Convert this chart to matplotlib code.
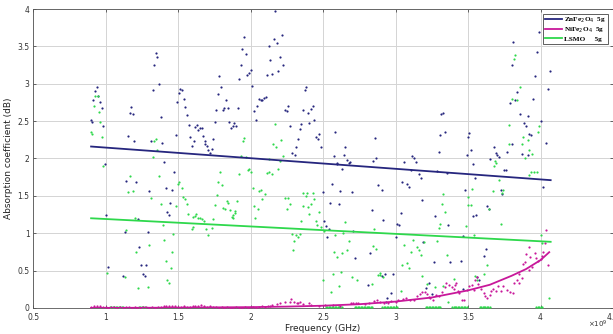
import numpy as np
import matplotlib
matplotlib.use("Agg")
import matplotlib.pyplot as plt

# frequency in GHz (axis is shown as x10^9 Hz), absorption in dB
znfe_x = [0.94, 0.93, 0.946, 0.916, 0.962, 0.974, 0.898, 0.909, 0.985, 0.997,
          1.176, 1.167, 1.188, 1.155, 1.199, 1.346, 1.357, 1.334, 1.369, 1.326,
          1.381, 1.314, 1.392, 1.403, 1.484, 1.495, 1.507, 1.516, 1.528, 1.539,
          1.55, 1.562, 1.574, 1.585, 1.597, 1.608, 1.617, 1.629, 1.64, 1.652,
          1.663, 1.674, 1.686, 1.698, 1.709, 1.721, 1.732, 1.743, 1.753, 1.762,
          1.774, 1.785, 1.797, 1.808, 1.819, 1.831, 1.843, 1.854, 1.866, 1.877,
          1.888, 1.9, 1.912, 1.923, 1.932, 1.943, 1.955, 1.967, 1.978, 1.99,
          2.001, 2.012, 2.024, 2.036, 2.047, 2.059, 2.07, 2.081, 2.095, 2.105,
          2.112, 2.126, 2.134, 2.146, 2.16, 2.169, 2.183, 2.192, 2.203, 2.215,
          2.226, 2.24, 2.25, 2.259, 2.272, 2.286, 2.305, 2.316, 2.328, 2.339,
          2.35, 2.362, 2.374, 2.383, 2.394, 2.406, 2.417, 2.429, 2.44, 2.452,
          2.463, 2.472, 2.484, 2.574, 2.585, 2.597, 2.643, 2.654, 2.666, 2.677,
          2.688, 2.845, 2.857, 2.868, 3.059, 3.116, 3.128, 3.139,
          1.143, 1.21, 1.472, 1.302, 1.417, 1.459, 1.447, 1.424, 1.438, 1.003,
          1.224, 1.134, 1.291, 1.233, 1.017, 1.245, 1.281, 1.121, 1.259, 1.27,
          1.688, 2.594, 2.631, 2.564, 2.617, 2.702, 2.498, 2.548, 2.608, 2.881,
          2.905, 2.836, 2.912, 2.507, 2.521, 2.543, 2.53, 2.709, 2.721, 2.812,
          2.907, 2.926,
          3.316, 3.328, 3.307, 3.341, 3.298, 3.288, 3.353, 3.105, 3.162, 3.174,
          3.047, 3.081, 3.093, 3.185, 3.038, 3.012, 3.024, 3.001, 3.274, 3.364,
          3.266, 3.376, 3.454, 3.5, 3.509, 3.521, 3.491, 3.532, 3.546, 3.479,
          3.532, 3.557, 3.633, 3.643, 3.624, 3.612, 3.652, 3.681, 3.691, 3.702,
          3.714, 3.726, 3.737, 3.75, 3.762, 3.771, 3.806, 3.859, 3.9, 3.886,
          3.912, 3.923, 3.934, 3.87, 3.916, 4.006, 4.038, 4.017, 3.79, 3.824,
          3.988, 3.812, 3.974, 3.803, 3.962, 4.066, 4.05, 3.836, 3.946,
          3.192, 3.463, 2.824, 2.985, 2.969, 2.943, 2.934, 3.229, 3.208, 3.25,
          3.564, 3.576, 3.468]
znfe_y = [2.95, 2.90, 2.83, 2.78, 2.76, 2.67, 2.51, 2.49, 2.43, 1.93,
          2.69, 2.61, 2.59, 2.30, 2.23, 3.41, 3.36, 3.25, 3.00, 2.91,
          2.56, 2.24, 2.21, 1.95, 2.32, 2.76, 2.87, 2.93, 2.91, 2.79,
          2.69, 2.58, 2.45, 2.29, 2.17, 2.23, 2.42, 2.45, 2.38, 2.41,
          2.41, 2.30, 2.23, 2.17, 2.12, 2.07, 2.13, 2.26, 2.49, 2.65,
          2.86, 3.11, 2.96, 2.65, 2.67, 2.78, 2.67, 2.49, 2.41, 2.43,
          2.47, 2.44, 2.67, 3.07, 3.25, 3.47, 3.63, 3.40, 3.12, 3.15,
          3.19, 2.97, 2.63, 2.51, 2.70, 2.79, 2.78, 2.78, 2.81, 2.82,
          3.12, 3.50, 3.32, 3.13, 3.60, 3.97, 3.54, 3.17, 3.36, 3.65,
          3.25, 2.65, 2.63, 2.70, 2.44, 2.08, 2.05, 2.16, 2.26, 2.39,
          2.46, 2.65, 2.92, 2.95, 2.61, 2.48, 2.66, 2.70, 2.52, 2.29,
          2.26, 2.33, 2.15, 2.03, 2.35, 1.94, 2.05, 2.15, 1.98, 1.94,
          1.95, 1.97, 2.28, 2.00, 1.95, 2.03, 2.00, 1.95,
          1.70, 1.68, 1.82, 1.56, 1.61, 1.58, 1.41, 1.29, 1.24, 1.24,
          1.19, 1.01, 1.01, 0.81, 0.55, 0.57, 0.57, 0.43, 0.46, 0.43,
          2.20, 1.93, 1.86, 1.66, 1.57, 1.55, 1.55, 1.41, 1.39, 1.65,
          1.58, 1.31, 1.18, 1.16, 1.10, 1.06, 0.95, 1.03, 0.67, 0.31,
          0.43, 0.46,
          2.59, 2.61, 2.31, 2.36, 2.09, 1.83, 1.81, 1.85, 1.79, 1.74,
          1.69, 1.66, 1.62, 1.45, 1.27, 1.12, 1.11, 0.95, 1.23, 1.11,
          0.61, 0.61, 0.63, 2.29, 2.34, 2.12, 2.05, 1.92, 1.74, 1.58,
          1.23, 1.24, 1.37, 1.32, 0.79, 0.70, 1.99, 2.15, 2.08, 2.05,
          2.02, 1.58, 1.53, 1.84, 1.85, 2.09, 2.19, 2.59, 2.44, 2.48,
          2.57, 2.33, 2.32, 2.06, 2.05, 2.50, 2.21, 1.62, 2.74, 2.78,
          3.69, 3.56, 3.43, 3.25, 3.11, 3.17, 2.93, 2.89, 2.79,
          0.88, 0.96, 0.73, 0.46, 0.20, 0.13, 0.08, 0.33, 0.27, 0.19,
          0.42, 0.37, 0.26]

nife_x = [0.90, 0.92, 0.94, 0.96, 0.98, 1.00, 1.02, 1.04, 1.06, 1.08,
          1.10, 1.12, 1.14, 1.16, 1.18, 1.20, 1.22, 1.24, 1.26, 1.28,
          1.30, 1.32, 1.34, 1.36, 1.38, 1.40, 1.42, 1.44, 1.46, 1.48,
          1.50, 1.52, 1.54, 1.56, 1.58, 1.60, 1.62, 1.64, 1.66, 1.68,
          1.70, 1.72, 1.74, 1.76, 1.78, 1.80, 1.82, 1.84, 1.86, 1.88,
          1.90, 1.92, 1.94, 1.96, 1.98, 2.00, 2.02, 2.04, 2.06, 2.08,
          2.10, 2.12,
          2.134, 2.15, 2.18, 2.20, 2.24, 2.27, 2.28, 2.30, 2.32, 2.33,
          2.34, 2.36, 2.40, 2.42, 2.47, 2.51, 2.57, 2.62, 2.69, 2.71,
          2.73, 2.74, 2.79, 2.82,
          2.85, 2.87, 2.89, 2.92, 2.95, 2.97, 3.00, 3.02, 3.05, 3.07,
          3.10, 3.13, 3.15, 3.17, 3.18, 3.20, 3.22, 3.23, 3.24, 3.26,
          3.28, 3.30, 3.32, 3.34, 3.35, 3.37, 3.39, 3.40, 3.41, 3.42,
          3.43, 3.44, 3.46, 3.47, 3.49, 3.51, 3.53, 3.54, 3.55, 3.56,
          3.57, 3.59, 3.61, 3.62, 3.63, 3.65, 3.66, 3.67, 3.69, 3.71,
          3.73, 3.74, 3.77, 3.79, 3.81, 3.82, 3.84, 3.85, 3.87, 3.88,
          3.89, 3.90, 3.92, 3.93, 3.94, 3.96, 3.97, 3.98, 4.00, 4.01,
          4.02, 4.03, 4.04, 4.05, 3.92, 3.85]
nife_y = [0.01, 0.02, 0.03, 0.02, 0.01, 0.01, 0.00, 0.01, 0.01, 0.00,
          0.01, 0.00, 0.01, 0.01, 0.00, 0.01, 0.00, 0.00, 0.01, 0.01,
          0.00, 0.01, 0.00, 0.01, 0.01, 0.02, 0.02, 0.03, 0.02, 0.03,
          0.01, 0.01, 0.02, 0.01, 0.01, 0.02, 0.03, 0.03, 0.04, 0.02,
          0.01, 0.02, 0.01, 0.01, 0.00, 0.01, 0.00, 0.01, 0.00, 0.00,
          0.01, 0.00, 0.00, 0.01, 0.00, 0.01, 0.01, 0.00, 0.01, 0.02,
          0.01, 0.02,
          0.03, 0.04, 0.05, 0.06, 0.08, 0.08, 0.12, 0.08, 0.06, 0.06,
          0.08, 0.05, 0.07, 0.04, 0.03, 0.04, 0.04, 0.03, 0.06, 0.06,
          0.07, 0.06, 0.05, 0.06,
          0.09, 0.10, 0.08, 0.07, 0.06, 0.09, 0.08, 0.11, 0.12, 0.13,
          0.11, 0.10, 0.16, 0.18, 0.21, 0.22, 0.19, 0.15, 0.13, 0.11,
          0.17, 0.16, 0.22, 0.28, 0.33, 0.31, 0.28, 0.25, 0.31, 0.34,
          0.23, 0.20, 0.11, 0.10, 0.24, 0.29, 0.31, 0.24, 0.37, 0.42,
          0.32, 0.25, 0.20, 0.16, 0.13, 0.17, 0.23, 0.25, 0.23, 0.29,
          0.23, 0.29, 0.24, 0.22, 0.20, 0.33, 0.37, 0.34, 0.40, 0.59,
          0.61, 0.72, 0.82, 0.68, 0.55, 0.74, 0.67, 0.63, 0.66, 0.69,
          0.75, 0.87, 1.04, 0.58, 0.51, 0.46]

lsmo_x = [0.928, 0.95, 0.919, 0.953, 0.964, 0.898, 0.909, 0.976, 0.985, 1.334,
          1.346, 1.357, 1.326, 1.946, 1.957, 1.932, 1.967, 1.99,
          2.169, 2.155, 2.178, 2.212, 2.224, 2.126, 2.201, 2.19,
          1.171, 1.157, 1.19, 1.367, 1.312, 1.381, 1.484, 1.507, 1.498, 1.528,
          1.537, 1.548, 1.56, 1.571, 1.601, 1.615, 1.626, 1.64, 1.652, 1.666,
          1.677, 1.594, 1.606, 1.693, 1.707, 1.732, 1.743, 1.755, 1.767, 1.778,
          1.79, 1.801, 1.812, 1.824, 1.836, 1.847, 1.859, 1.87, 1.881, 1.893,
          1.905, 1.203, 1.141, 1.394, 1.403, 1.468, 1.302, 1.21, 1.459, 1.417,
          1.45, 1.008, 1.132, 1.424, 1.436, 1.224, 1.293,
          1.921, 1.981, 2.003, 2.112, 2.13, 2.146, 2.015, 2.061, 2.072, 2.1,
          2.081, 1.891, 1.877, 2.026, 2.05, 2.033, 2.238, 2.261, 2.272, 2.25,
          2.364, 2.388, 2.381, 2.429, 2.417, 2.44, 2.364, 2.394, 2.406, 2.346,
          2.45, 2.47, 2.457, 2.284, 2.314, 2.326, 2.341, 2.302, 2.295, 2.488,
          2.507, 2.654, 2.585, 2.64, 2.681, 2.663, 2.576, 2.599, 2.629, 2.843,
          2.866, 2.854, 2.498, 2.567, 2.622, 2.7, 2.553, 2.61, 2.732, 2.836,
          2.881, 2.893,
          3.824, 3.819, 3.859, 3.803, 3.836, 3.785, 3.881, 3.874, 3.914, 3.781,
          3.921, 3.891, 3.939, 3.992, 3.986, 3.684, 3.693, 3.677, 3.712, 3.67,
          3.743, 3.732, 3.937, 3.957, 3.974, 3.919, 3.33, 3.319, 3.339, 3.307,
          3.298, 3.284, 3.5, 3.502, 3.519, 3.528, 3.486, 3.543, 3.643, 3.726,
          3.061, 3.123, 3.146, 3.16, 3.176, 3.105, 3.197, 3.353, 3.047, 3.081,
          3.093, 3.183, 3.215, 3.272, 3.33, 3.403, 3.633, 3.61, 3.56, 3.55,
          3.036, 3.364, 4.003, 4.008, 4.061, 2.893, 2.912,
          1.03, 1.04, 1.05, 1.06, 1.07, 1.08, 1.09, 1.10, 1.11, 1.12,
          1.23, 1.24, 1.25, 1.26, 1.27,
          2.52, 2.53, 2.54, 2.55, 2.56, 2.57, 2.58, 2.59, 2.60, 2.61, 2.62, 2.63,
          2.72, 2.73, 2.74, 2.75, 2.76, 2.77, 2.78, 2.79, 2.80, 2.81, 2.82, 2.83, 2.84,
          2.91, 2.92, 2.93, 2.94, 2.95, 2.96, 2.97, 2.98, 2.99, 3.00, 3.01,
          3.21, 3.22, 3.23, 3.24, 3.25, 3.26, 3.27, 3.28, 3.29, 3.30, 3.31,
          3.39, 3.40, 3.41, 3.42, 3.43, 3.44, 3.45, 3.46, 3.47, 3.48, 3.49,
          3.58, 3.59, 3.60, 3.61, 3.62, 3.63, 3.64, 3.65,
          3.97, 3.98, 3.99, 4.00, 4.01]
lsmo_y = [2.83, 2.83, 2.70, 2.62, 2.49, 2.35, 2.33, 2.29, 1.90, 2.23,
          2.26, 2.12, 2.02, 2.23, 2.28, 2.03, 2.02, 1.86,
          2.46, 2.20, 2.15, 2.25, 2.03, 1.99, 1.97, 1.86,
          1.76, 1.55, 1.56, 1.76, 1.47, 1.39, 1.36, 1.69, 1.66, 1.60,
          1.49, 1.46, 1.39, 1.26, 1.22, 1.23, 1.26, 1.20, 1.20, 1.19,
          1.16, 1.05, 1.08, 1.05, 0.98, 1.07, 1.19, 1.38, 1.51, 1.68,
          1.82, 1.65, 1.34, 1.33, 1.43, 1.40, 1.31, 1.22, 1.24, 1.27,
          1.43, 1.21, 1.04, 1.11, 0.91, 0.99, 0.84, 0.75, 0.75, 0.63,
          0.54, 0.47, 0.41, 0.37, 0.34, 0.27, 0.28,
          1.79, 1.84, 1.82, 1.80, 1.82, 1.79, 1.60, 1.56, 1.58, 1.53,
          1.46, 1.30, 1.21, 1.37, 1.33, 1.21, 1.47, 1.47, 1.39, 1.32,
          1.54, 1.54, 1.50, 1.54, 1.39, 1.46, 1.37, 1.35, 1.26, 1.16,
          1.17, 1.28, 1.11, 0.99, 0.98, 0.95, 0.99, 0.90, 0.78, 1.08,
          1.03, 1.15, 0.98, 1.00, 0.90, 0.77, 0.75, 0.68, 0.73, 0.83,
          0.79, 1.05, 0.37, 0.46, 0.48, 0.41, 0.22, 0.29, 0.37, 0.32,
          0.44, 0.44,
          3.39, 3.33, 2.95, 2.80, 2.78, 2.45, 2.29, 2.20, 2.25, 2.20,
          2.11, 2.00, 2.06, 2.43, 2.35, 1.97, 1.94, 1.90, 1.71, 1.57,
          1.58, 1.54, 1.82, 1.82, 1.82, 1.78, 1.52, 1.39, 1.29, 1.13,
          1.07, 0.90, 1.49, 1.38, 1.38, 1.59, 1.09, 0.98, 1.33, 1.13,
          0.84, 0.91, 0.82, 0.78, 0.71, 0.75, 0.88, 0.71, 0.58, 0.60,
          0.53, 0.43, 0.32, 0.28, 0.29, 0.39, 0.58, 0.46, 0.37, 0.43,
          0.23, 0.08, 0.98, 0.87, 0.13, 0.47, 0.42,
          0.01, 0.01, 0.01, 0.01, 0.01, 0.01, 0.01, 0.01, 0.01, 0.01,
          0.01, 0.01, 0.01, 0.01, 0.01,
          0.01, 0.01, 0.01, 0.01, 0.01, 0.01, 0.01, 0.01, 0.01, 0.01, 0.01, 0.01,
          0.01, 0.01, 0.01, 0.01, 0.01, 0.01, 0.01, 0.01, 0.01, 0.01, 0.01, 0.01, 0.01,
          0.01, 0.01, 0.01, 0.01, 0.01, 0.01, 0.01, 0.01, 0.01, 0.01, 0.01,
          0.01, 0.01, 0.01, 0.01, 0.01, 0.01, 0.01, 0.01, 0.01, 0.01, 0.01,
          0.01, 0.01, 0.01, 0.01, 0.01, 0.01, 0.01, 0.01, 0.01, 0.01, 0.01,
          0.01, 0.01, 0.01, 0.01, 0.01, 0.01, 0.01, 0.01,
          0.01, 0.01, 0.01, 0.01, 0.01]

# trend lines
znfe_fit_x = [0.90, 4.07]
znfe_fit_y = [2.16, 1.71]
lsmo_fit_x = [0.90, 4.07]
lsmo_fit_y = [1.20, 0.885]
nife_fit_x = [0.90, 1.50, 2.00, 2.25, 2.50, 2.75, 3.00, 3.25, 3.50, 3.65, 3.80, 3.90, 4.00, 4.06]
nife_fit_y = [0.00, 0.004, 0.011, 0.018, 0.03, 0.05, 0.085, 0.14, 0.235, 0.31, 0.43, 0.52, 0.64, 0.746]

labels = ["ZnFe$_2$O$_4$  5g", "NiFe$_2$O$_4$  5g", "LSMO     5g"]
c_blue = "#26267e"
c_mag = "#c8189a"
c_green = "#2ed84c"

fig = plt.figure(figsize=(6.13, 3.34), dpi=100)
ax = fig.add_axes([0.054, 0.078, 0.946, 0.895])

ax.scatter(znfe_x, znfe_y, s=2.5, color=c_blue, linewidths=0, zorder=3)
ax.scatter(lsmo_x, lsmo_y, s=2.5, color=c_green, linewidths=0, zorder=3)
ax.scatter(nife_x, nife_y, s=2.5, color=c_mag, linewidths=0, zorder=3)

l1, = ax.plot(znfe_fit_x, znfe_fit_y, color=c_blue, lw=1.3, zorder=4)
l2, = ax.plot(nife_fit_x, nife_fit_y, color=c_mag, lw=1.3, zorder=4)
l3, = ax.plot(lsmo_fit_x, lsmo_fit_y, color=c_green, lw=1.3, zorder=4)

ax.set_xlim(0.5, 4.5)
ax.set_ylim(0, 4)
xt = [0.5, 1, 1.5, 2, 2.5, 3, 3.5, 4, 4.5]
yt = [0, 0.5, 1, 1.5, 2, 2.5, 3, 3.5, 4]
ax.set_xticks(xt)
ax.set_xticklabels([f"{v:g}" for v in xt])
ax.set_yticks(yt)
ax.set_yticklabels([f"{v:g}" for v in yt])
ax.tick_params(direction="in", length=2.5, width=0.5, labelsize=5.5,
               colors="#333333", top=True, right=True)
ax.tick_params(axis="x", pad=3.5)
ax.tick_params(axis="y", pad=2.5)
ax.grid(True, color="#d4d4d4", lw=0.7)
ax.set_axisbelow(True)
for s in ax.spines.values():
    s.set_color("#555555")
    s.set_linewidth(0.6)

ax.set_xlabel("Frequency (GHz)", fontsize=6.5, color="#222222", labelpad=1.5)
ax.set_ylabel("Absorption coefficient (dB)", fontsize=6.5, color="#222222", labelpad=3)
fig.text(0.975, 0.02, r"$\times10^9$", fontsize=5, color="#333333", ha="center")

leg = ax.legend([l1, l2, l3], labels, loc="upper right",
                bbox_to_anchor=(0.991, 0.984), borderaxespad=0,
                prop={"family": "Liberation Serif", "weight": "bold", "size": 5.2},
                handlelength=2.4, handletextpad=0.2, borderpad=0.3,
                labelspacing=0.1, fancybox=False, framealpha=1)
leg.get_frame().set_edgecolor("#444444")
leg.get_frame().set_linewidth(0.6)

fig.savefig("out.png", dpi=100)
